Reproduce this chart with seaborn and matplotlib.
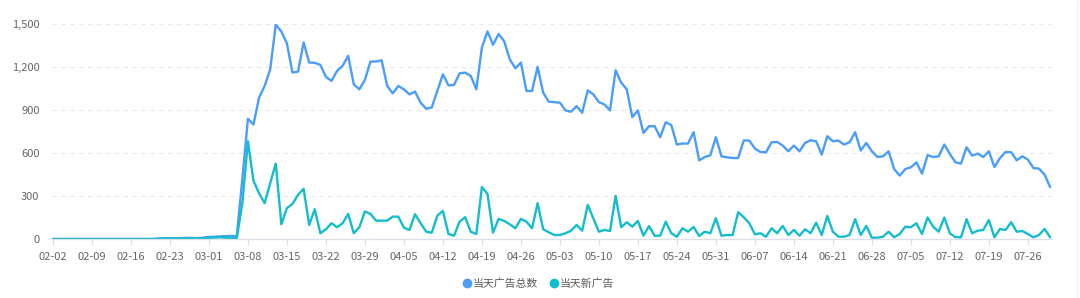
import numpy as np
import pandas as pd
import matplotlib
matplotlib.use("Agg")
import matplotlib.pyplot as plt
import matplotlib.dates as mdates
from matplotlib.lines import Line2D
import seaborn as sns

# ---------------- data ----------------
start_date = "2020-02-02"
series_names = ["当天广告总数", "当天新广告"]

total_ads = (
    [0] * 19
    + [3, 5, 6, 5, 6, 8, 7, 6, 9, 14, 16, 18, 20, 21, 20]
    + [420]
    + [839, 799, 986, 1068, 1184, 1495, 1448, 1364, 1161, 1168, 1371, 1231, 1229, 1215, 1131, 1103,
       1173, 1208, 1278, 1079, 1044, 1110]
    + [1238, 1238, 1247, 1068, 1016, 1068, 1044, 1009, 1028, 951, 909, 918, 1033, 1149, 1072, 1075,
       1156, 1161, 1138, 1044, 1336, 1448, 1355, 1430, 1380]
    + [1254, 1191, 1231, 1033, 1033, 1201, 1021, 958, 955, 951, 897, 888, 927, 881, 1037, 1009,
       955, 939, 897, 1177, 1091, 1044, 850, 897, 740]
    + [787, 787, 710, 815, 794, 659, 666, 666, 745, 549, 572, 584, 710, 577, 570, 565, 565, 687,
       687, 631, 607, 605, 675, 677, 652]
    + [612, 652, 612, 670, 689, 682, 589, 717, 682, 687, 659, 675, 745, 617, 670, 612, 572, 577,
       612, 488, 442, 488, 500, 535, 456]
    + [585, 572, 577, 659, 593, 535, 526, 640, 582, 596, 572, 612, 502, 565, 607, 605, 549, 577,
       554, 495, 491, 449, 362]
)

new_ads = (
    [0] * 19
    + [2, 3, 4, 3, 3, 5, 4, 2, 5, 8, 10, 12, 9, 7, 5]
    + [250]
    + [682, 406, 320, 250, 390, 526, 103, 215, 245, 308, 350, 98, 208, 40, 68, 110, 82, 110, 175,
       40, 82, 192]
    + [175, 128, 128, 128, 156, 156, 79, 63, 173, 110, 51, 44, 163, 196, 35, 23, 121, 152, 51, 35,
       362, 315, 44, 140, 126]
    + [103, 75, 140, 121, 75, 250, 68, 47, 28, 28, 40, 58, 98, 58, 238, 145, 51, 63, 56, 301, 82,
       117, 86, 126, 23]
    + [90, 23, 23, 121, 40, 16, 75, 51, 84, 21, 51, 40, 145, 23, 28, 28, 187, 152, 110, 33, 40, 16,
       75, 40, 91]
    + [28, 63, 23, 68, 40, 114, 28, 161, 51, 16, 16, 28, 138, 28, 91, 9, 9, 16, 51, 12, 35, 86, 82,
       110, 35]
    + [150, 86, 51, 150, 40, 12, 12, 138, 40, 58, 63, 133, 12, 70, 63, 117, 51, 56, 35, 12, 28, 70,
       12]
)

y_ticks = [0, 300, 600, 900, 1200, 1500]

# ---------------- frame ----------------
dates = pd.date_range(start_date, periods=len(total_ads), freq="D")
df = pd.DataFrame({
    "date": list(dates) + list(dates),
    "value": total_ads + new_ads,
    "series": [series_names[0]] * len(total_ads) + [series_names[1]] * len(new_ads),
})

colors = {series_names[0]: "#4A9DF8", series_names[1]: "#14BDCD"}

sns.set_theme(style="white")
plt.rcParams["font.family"] = ["Noto Sans CJK SC", "DejaVu Sans"]

W, H = 1080, 298
fig = plt.figure(figsize=(W / 100, H / 100), dpi=100)
ax = fig.add_axes([52 / W, 1 - 239 / H, 1000 / W, 215 / H])

sns.lineplot(data=df, x="date", y="value", hue="series", palette=colors,
             linewidth=1.7, ax=ax, legend=False)

ax.set_xlim(dates[0] - pd.Timedelta(hours=4), dates[-1] + pd.Timedelta(hours=8))
ax.set_ylim(0, 1500)

# grid / spines
ax.yaxis.grid(True, linestyle=(0, (4, 4)), color="#E6E9F0", linewidth=0.8)
ax.xaxis.grid(False)
for s in ["top", "right", "left"]:
    ax.spines[s].set_visible(False)
ax.spines["bottom"].set_color("#DCDFE7")
ax.spines["bottom"].set_linewidth(0.9)

ax.set_yticks(y_ticks)
ax.set_yticklabels([f"{v:,}" for v in y_ticks])
ax.set_xticks(dates[::7])
ax.xaxis.set_major_formatter(mdates.DateFormatter("%m-%d"))

ax.tick_params(axis="y", length=0, pad=9, labelsize=8, labelcolor="#666666")
ax.tick_params(axis="x", bottom=True, length=4, width=0.9, color="#DCDFE7",
               pad=5, labelsize=8, labelcolor="#666666")
ax.set_xlabel("")
ax.set_ylabel("")

# legend
handles = [Line2D([0], [0], marker="o", linestyle="none", markersize=6,
                  markerfacecolor=colors[n], markeredgecolor=colors[n]) for n in series_names]
leg = fig.legend(handles, series_names, loc="center", bbox_to_anchor=(0.498, 0.047),
                 ncol=2, frameon=False, fontsize=7.8, handletextpad=0.1,
                 columnspacing=0.9, handlelength=1.0)
for t in leg.get_texts():
    t.set_color("#595959")

# faint right border of the panel
fig.add_artist(Line2D([1077 / W, 1077 / W], [0, 1], transform=fig.transFigure,
                      color="#EEF0F5", linewidth=1))

fig.savefig("out.png", dpi=100, facecolor="white")
